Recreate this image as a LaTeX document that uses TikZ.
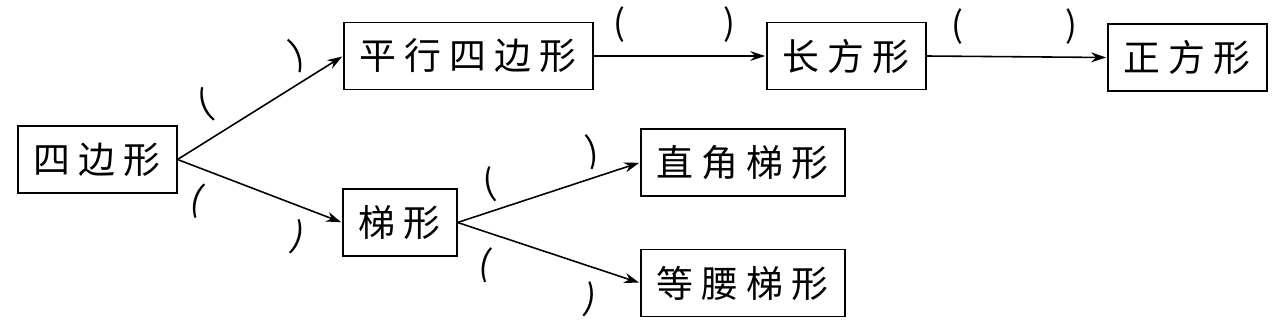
\documentclass[tikz,border=0pt]{standalone}
\usepackage{fontspec}
\newfontfamily\cjk[LetterSpace=22]{Noto Sans CJK SC}
\newfontfamily\kuofont{Noto Sans CJK SC}
\usepackage{tikz}
\usetikzlibrary{arrows.meta}

\begin{document}
\begin{tikzpicture}[>={Stealth[length=0.3cm,width=0.2cm]},
  box/.style={draw,line width=0.9pt,minimum height=1.34cm,inner xsep=0.32cm,anchor=west,
    font=\cjk\fontsize{21}{25}\selectfont},
  kuo/.style={font=\kuofont\fontsize{20}{24}\selectfont,inner sep=0pt},
  jt/.style={->,line width=0.9pt,shorten >=0.5pt}]
\useasboundingbox (0,0) rectangle (25.7,6.52);
% boxes
\node[box](sbx) at (0.34,3.33){四边形};
\node[box](pxsbx) at (6.86,5.40){平行四边形};
\node[box](tx) at (6.84,2.07){梯形};
\node[box](cfx) at (15.32,5.40){长方形};
\node[box](zfx) at (22.14,5.37){正方形};
\node[box](zjtx) at (12.80,3.27){直角梯形};
\node[box](dytx) at (12.80,0.86){等腰梯形};
% arrows
\draw[jt](sbx.east)--(pxsbx.west);
\draw[jt](sbx.east)--(tx.west);
\draw[jt](pxsbx.east)--(cfx.west);
\draw[jt](cfx.east)--(zfx.west);
\draw[jt](tx.east)--(zjtx.west);
\draw[jt](tx.east)--(dytx.west);
% blanks
\node[kuo,rotate=20](k1) at (4.10,4.42){(};
\node[kuo,rotate=20](k2) at (5.94,5.42){)};
\node[kuo,rotate=-15](k3) at (3.94,2.52){(};
\node[kuo,rotate=-15](k4) at (5.96,1.78){)};
\node[kuo](k5) at (12.38,6.02){(};
\node[kuo](k6) at (14.58,6.02){)};
\node[kuo](k7) at (19.14,5.98){(};
\node[kuo](k8) at (21.42,5.98){)};
\node[kuo,rotate=10](k9) at (9.78,2.82){(};
\node[kuo,rotate=10](k10) at (11.84,3.48){)};
\node[kuo,rotate=-10](k11) at (9.70,1.22){(};
\node[kuo,rotate=-10](k12) at (11.80,0.52){)};
\end{tikzpicture}
\end{document}
